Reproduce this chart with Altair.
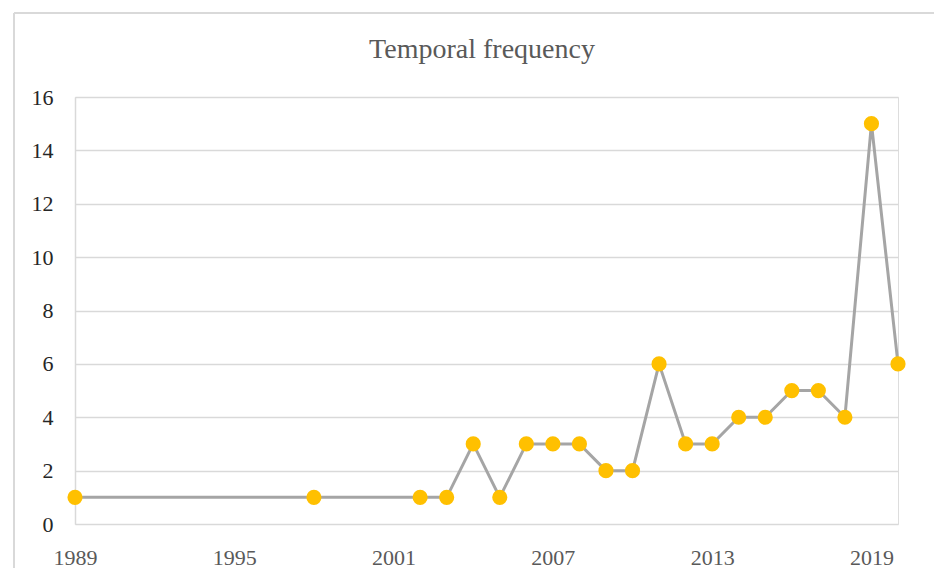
import altair as alt
import pandas as pd

years = [1989, 1998, 2002, 2003, 2004, 2005, 2006, 2007, 2008, 2009, 2010,
         2011, 2012, 2013, 2014, 2015, 2016, 2017, 2018, 2019, 2020]
counts = [1, 1, 1, 1, 3, 1, 3, 3, 3, 2, 2, 6, 3, 3, 4, 4, 5, 5, 4, 15, 6]
x_ticks = [1989, 1995, 2001, 2007, 2013, 2019]
y_ticks = [0, 2, 4, 6, 8, 10, 12, 14, 16]
title_text = ["Temporal frequency"]

df = pd.DataFrame({"year": years, "count": counts})

FONT = "Liberation Serif"

x_enc = alt.X("year:Q", scale=alt.Scale(domain=[1989, 2020], nice=False, zero=False),
              axis=alt.Axis(values=x_ticks, format="d", title=None, grid=False,
                            domain=False, ticks=False, labelPadding=23, labelFlush=False,
                            labelFontSize=22, labelColor="#595959", labelFont=FONT))
y_enc = alt.Y("count:Q", scale=alt.Scale(domain=[0, 16], nice=False),
              axis=alt.Axis(values=y_ticks, title=None, grid=True, gridColor="#d9d9d9",
                            gridWidth=1.5, domain=True, domainColor="#d9d9d9",
                            domainWidth=1.5, ticks=False, labelPadding=22,
                            labelFontSize=22, labelColor="#262626", labelFont=FONT))

line = alt.Chart(df).mark_line(color="#a5a5a5", strokeWidth=3).encode(x=x_enc, y=y_enc)
pts = alt.Chart(df).mark_circle(color="#ffc000", size=230, opacity=1).encode(x="year:Q", y="count:Q")

border_left = alt.Chart(df).mark_rule(color="#d9d9d9", strokeWidth=2, clip=False).encode(
    x=alt.value(-61), y=alt.value(-84), y2=alt.value(600))
border_top = alt.Chart(df).mark_rule(color="#d9d9d9", strokeWidth=2, clip=False).encode(
    x=alt.value(-61), x2=alt.value(900), y=alt.value(-84))

title = alt.Chart(pd.DataFrame({"t": title_text})).mark_text(
    font=FONT, fontSize=28, color="#595959", align="center", baseline="middle"
).encode(text="t:N", x=alt.value(407), y=alt.value(-47))

chart = alt.layer(border_left, border_top, line, pts, title).properties(
    width=823, height=427,
    autosize="none",
    padding={"left": 67, "top": 89, "right": 36, "bottom": 44},
).configure_view(stroke=None).configure(background="white")

chart.save("out.html", embed_options={"renderer": "svg", "actions": False})
